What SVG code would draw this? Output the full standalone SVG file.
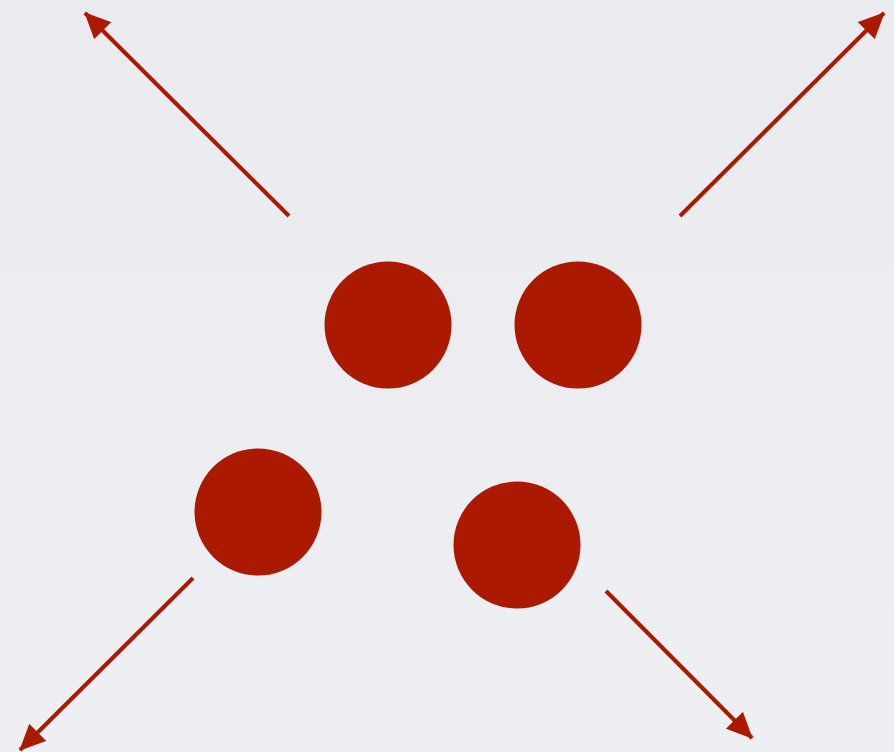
<svg xmlns="http://www.w3.org/2000/svg" width="894" height="752" viewBox="0 0 894 752">
<style>
.dot{fill:#aa1900}
.arr{stroke:#aa1900;stroke-width:4;fill:none;marker-end:url(#head)}
</style>
<defs>
<marker id="head" viewBox="0 0 26 24" refX="25" refY="12" markerWidth="26" markerHeight="24" markerUnits="userSpaceOnUse" orient="auto">
<path d="M0,0 L26,12 L0,24 z" fill="#aa1900"/>
</marker>
<linearGradient id="bg" x1="0" y1="0" x2="0" y2="1">
<stop offset="0" stop-color="#e9ebee"/>
<stop offset="1" stop-color="#eeeff2"/>
</linearGradient>
</defs>
<rect width="894" height="752" fill="url(#bg)"/>
<g id="connectors">
<line class="arr" x1="289" y1="216" x2="85" y2="13"/>
<line class="arr" x1="680" y1="216" x2="884" y2="13"/>
<line class="arr" x1="193" y1="578" x2="20" y2="750"/>
<line class="arr" x1="606" y1="591" x2="752" y2="738"/>
</g>
<g id="dot1"><circle class="dot" cx="388" cy="325" r="63.5"/></g>
<g id="dot2"><circle class="dot" cx="578" cy="325" r="63.5"/></g>
<g id="dot3"><circle class="dot" cx="258" cy="512" r="63.5"/></g>
<g id="dot4"><circle class="dot" cx="517" cy="545" r="63.5"/></g>
</svg>
